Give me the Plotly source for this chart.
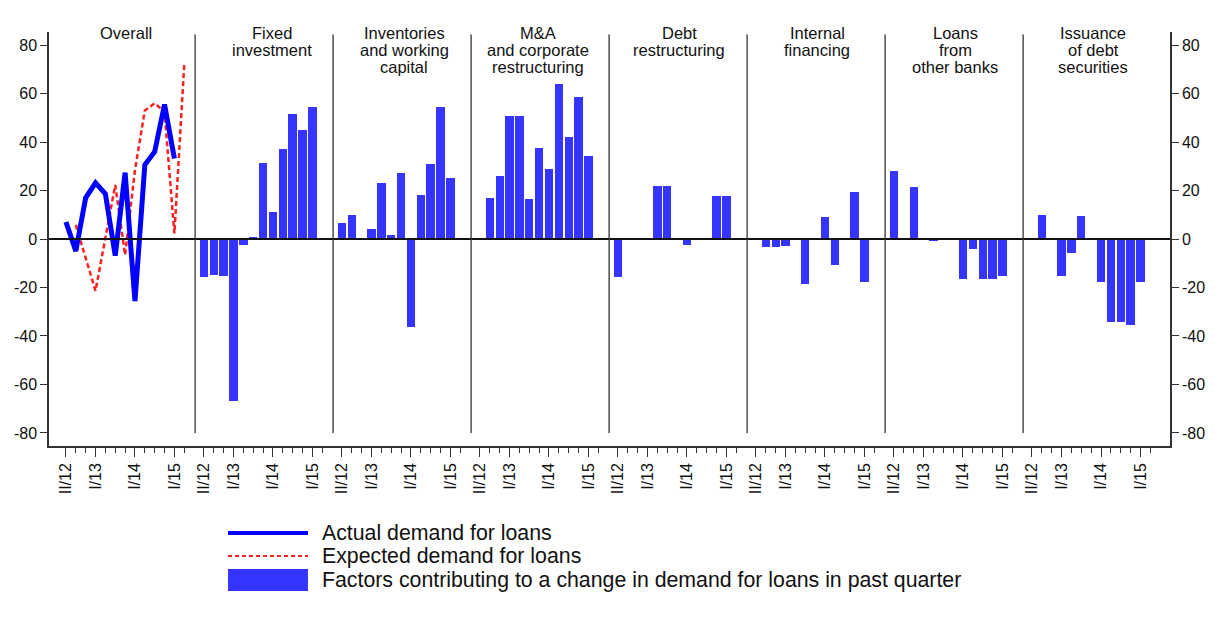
import plotly.graph_objects as go

quarters = ["II/12", "III/12", "IV/12", "I/13", "II/13", "III/13", "IV/13",
            "I/14", "II/14", "III/14", "IV/14", "I/15", "II/15"]
labeled_quarters = ["II/12", "I/13", "I/14", "I/15"]

panel_titles = [["Overall"], ["Fixed", "investment"], ["Inventories", "and working", "capital"],
                ["M&A", "and corporate", "restructuring"], ["Debt", "restructuring"],
                ["Internal", "financing"], ["Loans", "from", "other banks"],
                ["Issuance", "of debt", "securities"]]

# Overall panel lines
actual_quarters = quarters[0:12]
actual_demand = [7, -5, 17, 23.2, 18.6, -6.9, 27.4, -25.6, 30.6, 36, 55.5, 33.2]
expected_quarters = quarters[1:13]
expected_demand = [5.8, -7.5, -21.4, 0.5, 22.3, -6.6, 28.5, 53, 56, 52.5, 2.3, 72]

# Factor bars (II/12 .. I/15)
fixed_investment = [-15.5, -14.8, -15.3, -67, -2.5, 0.8, 31.5, 11, 37.1, 51.4, 45, 54.3]
inventories = [6.6, 9.9, 0, 4.3, 23, 1.6, 27.4, -36.2, 18, 30.9, 54.3, 25]
ma_restructuring = [0, 16.8, 26.1, 50.9, 50.9, 16.4, 37.7, 28.7, 63.9, 42.2, 58.7, 34.1]
debt_restructuring = [-15.5, 0, 0, 0, 21.7, 21.7, 0, -2.5, 0, 0, 17.6, 17.6]
internal_financing = [0, -3.2, -3.2, -2.9, 0, -18.7, 0, 9.2, -10.7, 0, 19.4, -17.6]
loans_other_banks = [28.2, 0, 21.6, 0, -0.5, 0, 0, -16.6, -4.3, -16.6, -16.6, -15.3]
debt_securities = [0, 9.9, 0, -15.3, -5.6, 9.5, 0, -17.7, -34.1, -34.1, -35.5, -17.7]

factor_panels = [fixed_investment, inventories, ma_restructuring, debt_restructuring,
                 internal_financing, loans_other_banks, debt_securities]

y_ticks = [-80, -60, -40, -20, 0, 20, 40, 60, 80]
y_ticktext = [str(v) for v in y_ticks]

SLOTS = 14
FONT = "Liberation Sans, Arial, sans-serif"
BAR_COLOR = "#3535ff"
LINE_BLUE = "#0000ff"
RED = "#ff2020"

# page body margin of 8px is compensated: figure is 8px smaller each way
OFF = 8
FIG_W, FIG_H = 1232 - OFF, 625 - OFF
# desired plot area in page pixels
PLOT_L, PLOT_R, PLOT_T, PLOT_B = 49, 1170, 32, 446
PW, PH = PLOT_R - PLOT_L, PLOT_B - PLOT_T


def px(xp):
    return (xp - PLOT_L) / PW


def py(yp):
    return (PLOT_B - yp) / PH


def xpos(panel, q):
    return panel * SLOTS + quarters.index(q)


fig = go.Figure()

# bars
bx, by = [], []
for k, vals in enumerate(factor_panels, start=1):
    for q, v in zip(quarters[:12], vals):
        bx.append(xpos(k, q))
        by.append(v)
fig.add_trace(go.Bar(x=bx, y=by, width=0.85, marker=dict(color=BAR_COLOR, line=dict(width=0)),
                     showlegend=False, hoverinfo="y"))

fig.add_trace(go.Scatter(x=[xpos(0, q) for q in expected_quarters], y=expected_demand,
                         mode="lines", line=dict(color=RED, width=2.5, dash="5px,3px"),
                         showlegend=False))
fig.add_trace(go.Scatter(x=[xpos(0, q) for q in actual_quarters], y=actual_demand,
                         mode="lines", line=dict(color=LINE_BLUE, width=5),
                         showlegend=False))
# invisible trace to anchor right axis
fig.add_trace(go.Scatter(x=[0], y=[0], yaxis="y2", mode="markers",
                         marker=dict(opacity=0), showlegend=False, hoverinfo="skip"))

major_vals, major_text, minor_vals = [], [], []
for k in range(8):
    for q in quarters:
        minor_vals.append(xpos(k, q))
    for q in labeled_quarters:
        major_vals.append(xpos(k, q))
        major_text.append(q)

YR = [-85.4, 85.4]
shapes = []
# zero line
shapes.append(dict(type="line", xref="paper", yref="y", x0=0, x1=1, y0=0, y1=0,
                   line=dict(color="#111", width=2)))
# separators
for k in range(1, 8):
    xs = k * SLOTS - 0.9
    shapes.append(dict(type="line", xref="x", yref="y", x0=xs, x1=xs, y0=-80, y1=84.4,
                       line=dict(color="#333", width=1.3)))

annotations = []
title_offsets = [6.1, 6.9, 6.3, 5.9, 6.2, 6.2, 6.2, 6.2]
for k, lines in enumerate(panel_titles):
    for j, t in enumerate(lines):
        annotations.append(dict(x=k * SLOTS + title_offsets[k], y=py(33 + 17 * j), xref="x",
                                yref="paper", text=t, showarrow=False, xanchor="center",
                                yanchor="middle",
                                font=dict(family=FONT, size=16.5, color="#111")))

legend_items = ["Actual demand for loans", "Expected demand for loans",
                "Factors contributing to a change in demand for loans in past quarter"]
leg_y = [533, 556, 580]
shapes.append(dict(type="line", xref="paper", yref="paper", x0=px(228), x1=px(308),
                   y0=py(leg_y[0]), y1=py(leg_y[0]), line=dict(color=LINE_BLUE, width=4)))
shapes.append(dict(type="line", xref="paper", yref="paper", x0=px(228), x1=px(308),
                   y0=py(leg_y[1]), y1=py(leg_y[1]), line=dict(color=RED, width=2, dash="4px,3px")))
shapes.append(dict(type="rect", xref="paper", yref="paper", x0=px(228), x1=px(308),
                   y0=py(591), y1=py(569), line=dict(width=0), fillcolor=BAR_COLOR))
for txt, yy in zip(legend_items, leg_y):
    annotations.append(dict(x=px(320), y=py(yy), xref="paper", yref="paper", text=txt,
                            showarrow=False, xanchor="left", yanchor="middle",
                            font=dict(family=FONT, size=21.3, color="#111")))

fig.update_layout(
    width=FIG_W, height=FIG_H,
    margin=dict(l=PLOT_L - OFF, r=FIG_W - (PLOT_R - OFF), t=PLOT_T - OFF,
                b=FIG_H - (PLOT_B - OFF), pad=0, autoexpand=False),
    paper_bgcolor="white", plot_bgcolor="white",
    bargap=0, showlegend=False,
    font=dict(family=FONT, color="#111"),
    xaxis=dict(range=[-1.72, 112], showgrid=False, zeroline=False, automargin=False,
               showline=True, linecolor="#333", linewidth=1.5,
               tickmode="array", tickvals=major_vals, ticktext=major_text,
               ticks="outside", ticklen=9, tickwidth=1.2, tickcolor="#333",
               tickangle=-90, tickfont=dict(family=FONT, size=16, color="#111"),
               minor=dict(tickmode="array", tickvals=minor_vals, ticks="outside",
                          ticklen=5, tickwidth=1, tickcolor="#333", showgrid=False)),
    yaxis=dict(range=YR, showgrid=False, zeroline=False, automargin=False,
               showline=True, linecolor="#333", linewidth=1.5,
               tickmode="array", tickvals=y_ticks, ticktext=y_ticktext,
               ticks="outside", ticklen=7, tickwidth=1.2, tickcolor="#333",
               tickfont=dict(family=FONT, size=16, color="#111")),
    yaxis2=dict(range=YR, overlaying="y", side="right", showgrid=False, zeroline=False,
                automargin=False,
                showline=True, linecolor="#333", linewidth=1.5,
                tickmode="array", tickvals=y_ticks, ticktext=y_ticktext,
                ticks="outside", ticklen=7, tickwidth=1.2, tickcolor="#333",
                tickfont=dict(family=FONT, size=16, color="#111")),
    shapes=shapes,
    annotations=annotations,
)

fig.write_html("out.html")
